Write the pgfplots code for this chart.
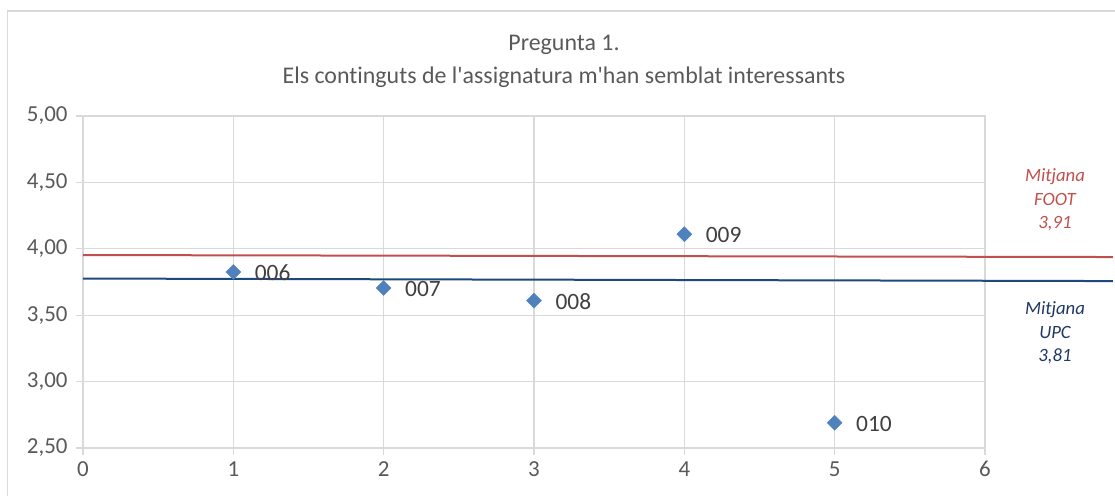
\documentclass[border=0pt]{standalone}
\usepackage{pgfplots}
\pgfplotsset{compat=1.18}
\usepackage{pgfplotstable}
\usepackage{fontspec}
\setmainfont{Carlito}[Ligatures={NoCommon,TeXOff}]
\definecolor{gridgray}{HTML}{D9D9D9}
\definecolor{tickgray}{HTML}{595959}
\definecolor{labgray}{HTML}{404040}
\definecolor{footred}{HTML}{C0504D}
\definecolor{upcblue}{HTML}{1F497D}
\definecolor{upctext}{HTML}{1F3864}
\definecolor{markblue}{HTML}{4F81BD}
\pgfplotstableread{
x y label
1 3.825 006
2 3.705 007
3 3.61 008
4 4.11 009
5 2.69 010
}\points
\begin{document}
\begin{tikzpicture}
\useasboundingbox (-83bp,-48bp) rectangle (1032bp,448bp);
\draw[gridgray, line width=1.3bp] (-75.5bp,-80bp) |- (1060bp,437bp);
\node[text=tickgray, font=\fontsize{24}{28}\selectfont] at (481bp,403bp) {Pregunta 1.};
\node[text=tickgray, font=\fontsize{24}{28}\selectfont] at (481bp,371bp) {Els continguts de l'assignatura m'han semblat interessants};
\begin{axis}[
  at={(0,0)}, anchor=origin,
  scale only axis, width=902bp, height=332bp,
  xmin=0, xmax=6, ymin=2.5, ymax=5,
  xtick={0,1,2,3,4,5,6}, ytick={2.5,3,3.5,4,4.5,5},
  grid=major,
  grid style={gridgray, line width=1.3bp},
  axis line style={gridgray, line width=1.3bp},
  tick style={gridgray, line width=1.3bp},
  tick align=outside, tick pos=left,
  major tick length=7bp,
  clip=false,
  ticklabel style={text=tickgray, font=\fontsize{23}{27}\selectfont},
  yticklabel style={xshift=-5bp, /pgf/number format/fixed, /pgf/number format/fixed zerofill, /pgf/number format/precision=2, /pgf/number format/use comma, /pgf/number format/assume math mode=true},
  xticklabel style={yshift=-3bp, /pgf/number format/assume math mode=true},
]
\addplot[footred, line width=2bp] coordinates {(0,3.953) (6.85,3.938)};
\addplot[upcblue, line width=2bp] coordinates {(0,3.776) (6.85,3.757)};
\addplot[only marks, mark=square*, mark size=5.3bp,
  mark options={rotate=45, fill=markblue, draw=markblue},
  point meta=explicit symbolic,
  nodes near coords,
  nodes near coords style={anchor=west, xshift=18bp, yshift=-1bp, text=labgray, font=\fontsize{23.5}{27}\selectfont}]
  table[x=x, y=y, meta=label] {\points};
\end{axis}
\node[text=footred, align=center, font=\fontsize{18.8}{23.5}\selectfont\itshape] at (972bp,248bp) {Mitjana\\FOOT\\3,91};
\node[text=upctext, align=center, font=\fontsize{18.8}{23.5}\selectfont\itshape] at (972bp,115bp) {Mitjana\\UPC\\3,81};
\end{tikzpicture}
\end{document}
